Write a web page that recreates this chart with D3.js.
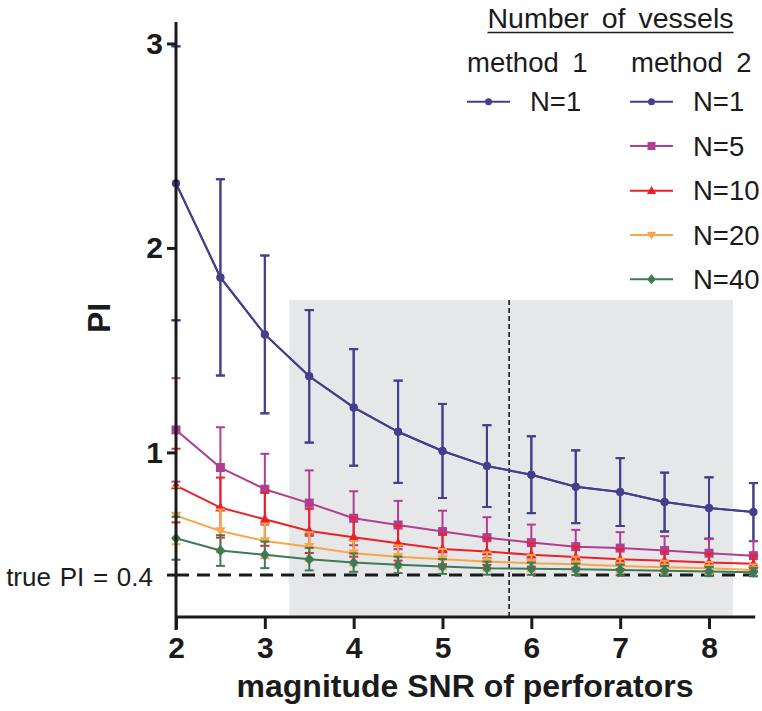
<!DOCTYPE html>
<html>
<head>
<meta charset="utf-8">
<script src="https://cdn.jsdelivr.net/npm/d3@7"></script>
<style>
  html, body { margin: 0; padding: 0; background: #fff; }
  svg { display: block; font-family: "Liberation Sans", Arial, sans-serif; }
</style>
</head>
<body>
<svg id="chart" width="762" height="711"></svg>
<script>
// SNR values where the PI estimate was evaluated
const snr = [2, 2.5, 3, 3.5, 4, 4.5, 5, 5.5, 6, 6.5, 7, 7.5, 8, 8.5];

// mean PI and standard deviation for each series
const m1n1Mean = [2.316, 1.856, 1.577, 1.372, 1.220, 1.101, 1.007, 0.933, 0.891, 0.832, 0.806, 0.757, 0.728, 0.708];
const m1n1Sd   = [0.670, 0.480, 0.386, 0.324, 0.285, 0.250, 0.230, 0.200, 0.188, 0.178, 0.166, 0.144, 0.150, 0.142];
const m2n1Mean = [2.316, 1.856, 1.577, 1.372, 1.220, 1.101, 1.007, 0.933, 0.891, 0.832, 0.806, 0.757, 0.728, 0.708];
const m2n1Sd   = [0.670, 0.480, 0.386, 0.324, 0.285, 0.250, 0.230, 0.200, 0.188, 0.178, 0.166, 0.144, 0.150, 0.142];
const m2n5Mean = [1.110, 0.926, 0.820, 0.752, 0.678, 0.645, 0.613, 0.583, 0.559, 0.539, 0.532, 0.520, 0.507, 0.495];
const m2n5Sd   = [0.253, 0.197, 0.173, 0.160, 0.132, 0.118, 0.102, 0.100, 0.088, 0.082, 0.078, 0.070, 0.069, 0.072];
const m2n10Mean = [0.838, 0.730, 0.673, 0.616, 0.585, 0.556, 0.528, 0.515, 0.499, 0.488, 0.478, 0.470, 0.462, 0.455];
const m2n10Sd   = [0.180, 0.147, 0.130, 0.108, 0.095, 0.085, 0.075, 0.065, 0.058, 0.052, 0.048, 0.045, 0.042, 0.040];
const m2n20Mean = [0.691, 0.616, 0.567, 0.539, 0.507, 0.490, 0.478, 0.466, 0.458, 0.453, 0.445, 0.438, 0.434, 0.425];
const m2n20Sd   = [0.140, 0.105, 0.085, 0.070, 0.060, 0.055, 0.050, 0.045, 0.040, 0.037, 0.035, 0.032, 0.030, 0.028];
const m2n40Mean = [0.580, 0.520, 0.499, 0.478, 0.461, 0.450, 0.442, 0.434, 0.431, 0.428, 0.425, 0.421, 0.417, 0.414];
const m2n40Sd   = [0.105, 0.075, 0.065, 0.055, 0.045, 0.040, 0.036, 0.032, 0.030, 0.028, 0.026, 0.024, 0.022, 0.020];

const seriesLabels = ["N=1", "N=1", "N=5", "N=10", "N=20", "N=40"];
const seriesColors = ["#433f8c", "#433f8c", "#b13f91", "#ee2027", "#f9a64a", "#3d7a57"];
const seriesSymbols = ["circle", "circle", "square", "triangle", "triangleDown", "diamond"];

const xTicks = [2, 3, 4, 5, 6, 7, 8];
const yTicks = [1, 2, 3];
const truePI = 0.4;
const shadeX = [3.275, 8.27];
const shadeTop = 1.745;
const cutoffSnr = 5.75;

const series = [
  { mean: m1n1Mean, sd: m1n1Sd },
  { mean: m2n1Mean, sd: m2n1Sd },
  { mean: m2n5Mean, sd: m2n5Sd },
  { mean: m2n10Mean, sd: m2n10Sd },
  { mean: m2n20Mean, sd: m2n20Sd },
  { mean: m2n40Mean, sd: m2n40Sd }
].map((s, i) => ({
  ...s,
  label: seriesLabels[i],
  color: seriesColors[i],
  symbol: seriesSymbols[i]
}));

const svg = d3.select("#chart");
const x = d3.scaleLinear().domain([2, 8.52]).range([176, 755.2]);
const y = d3.scaleLinear().domain([0.195, 3.105]).range([617, 22]);

const ink = "#1b1b1b";

// shaded SNR window and cutoff line
svg.append("rect")
  .attr("x", x(shadeX[0])).attr("y", y(shadeTop))
  .attr("width", x(shadeX[1]) - x(shadeX[0]))
  .attr("height", y(0.195) - y(shadeTop))
  .attr("fill", "#e6e7e8");

svg.append("line")
  .attr("x1", x(cutoffSnr)).attr("x2", x(cutoffSnr))
  .attr("y1", y(shadeTop)).attr("y2", y(0.195))
  .attr("stroke", ink).attr("stroke-width", 1.6)
  .attr("stroke-dasharray", "5,3");

// reference line at the true PI
svg.append("line")
  .attr("x1", x(2)).attr("x2", x(8.52))
  .attr("y1", y(truePI)).attr("y2", y(truePI))
  .attr("stroke", ink).attr("stroke-width", 3)
  .attr("stroke-dasharray", "13,8");

// symbol generator per marker type
function markerPath(kind, size) {
  const s = size;
  switch (kind) {
    case "circle": return d3.symbol(d3.symbolCircle, s * s * Math.PI / 4)();
    case "square": return `M${-s/2},${-s/2}h${s}v${s}h${-s}Z`;
    case "triangle": return `M0,${-s*0.6}L${s*0.58},${s*0.42}L${-s*0.58},${s*0.42}Z`;
    case "triangleDown": return `M0,${s*0.6}L${s*0.58},${-s*0.42}L${-s*0.58},${-s*0.42}Z`;
    case "diamond": return `M0,${-s*0.62}L${s*0.55},0L0,${s*0.62}L${-s*0.55},0Z`;
  }
}

const line = d3.line().x(d => x(d[0])).y(d => y(d[1]));
const capHalf = 4.5;

series.forEach(s => {
  const g = svg.append("g");
  const pts = snr.map((v, i) => [v, s.mean[i], s.sd[i]]);
  // error bars
  const eb = g.selectAll("g.err").data(pts).join("g").attr("class", "err")
    .attr("stroke", s.color).attr("stroke-width", 2);
  eb.append("line")
    .attr("x1", d => x(d[0])).attr("x2", d => x(d[0]))
    .attr("y1", d => y(d[1] + d[2])).attr("y2", d => y(d[1] - d[2]));
  eb.append("line")
    .attr("x1", d => x(d[0]) - capHalf).attr("x2", d => x(d[0]) + capHalf)
    .attr("y1", d => y(d[1] + d[2])).attr("y2", d => y(d[1] + d[2]));
  eb.append("line")
    .attr("x1", d => x(d[0]) - capHalf).attr("x2", d => x(d[0]) + capHalf)
    .attr("y1", d => y(d[1] - d[2])).attr("y2", d => y(d[1] - d[2]));
  // connecting line
  g.append("path").datum(pts).attr("d", line)
    .attr("fill", "none").attr("stroke", s.color).attr("stroke-width", 2);
  // markers
  g.selectAll("path.mk").data(pts).join("path").attr("class", "mk")
    .attr("transform", d => `translate(${x(d[0])},${y(d[1])})`)
    .attr("d", markerPath(s.symbol, s.symbol === "circle" ? 8 : 9))
    .attr("fill", s.color);
});

// axes
const yAxis = svg.append("g").attr("transform", `translate(${x(2)},0)`)
  .call(d3.axisLeft(y).tickValues(yTicks).tickFormat(d3.format("d")).tickSize(9).tickPadding(4));
yAxis.select(".domain").remove();
yAxis.append("line").attr("x1", 0).attr("x2", 0).attr("y1", y(3.105)).attr("y2", 630)
  .attr("stroke", ink).attr("stroke-width", 3);
yAxis.append("line").attr("x1", -9).attr("x2", 0).attr("y1", y(truePI)).attr("y2", y(truePI))
  .attr("stroke", ink).attr("stroke-width", 3);
yAxis.selectAll(".tick line").attr("stroke", ink).attr("stroke-width", 3);
yAxis.selectAll(".tick text").attr("fill", ink)
  .style("font-size", "30px").style("font-weight", "bold")
  .style("font-family", "'Liberation Sans', Arial, sans-serif");

const xAxis = svg.append("g").attr("transform", `translate(0,${y(0.195)})`)
  .call(d3.axisBottom(x).tickValues(xTicks).tickFormat(d3.format("d")).tickSize(12).tickPadding(8));
xAxis.select(".domain").remove();
xAxis.append("line").attr("x1", x(2)).attr("x2", x(8.52)).attr("y1", 0).attr("y2", 0)
  .attr("stroke", ink).attr("stroke-width", 3);
xAxis.selectAll(".tick line").attr("stroke", ink).attr("stroke-width", 3);
xAxis.selectAll(".tick text").attr("fill", ink)
  .style("font-size", "30px").style("font-weight", "bold")
  .style("font-family", "'Liberation Sans', Arial, sans-serif");

// axis titles
svg.append("text").attr("x", 465).attr("y", 697).attr("text-anchor", "middle")
  .attr("fill", ink).style("font-size", "32px").style("font-weight", "bold")
  .text("magnitude SNR of perforators");
svg.append("text").attr("transform", "translate(110,318) rotate(-90)")
  .attr("text-anchor", "middle").attr("fill", ink)
  .style("font-size", "32px").style("font-weight", "bold").text("PI");

svg.append("text").attr("x", 153).attr("y", 586).attr("text-anchor", "end")
  .attr("fill", ink).style("font-size", "26px").style("word-spacing", "1.5px")
  .text("true PI = 0.4");

// legend
const leg = svg.append("g").attr("fill", ink).style("font-size", "27.5px");
const title = leg.append("text").attr("x", 610.5).attr("y", 28).attr("text-anchor", "middle")
  .style("font-size", "28.5px").style("word-spacing", "5px").text("Number of vessels");
const tb = title.node().getBBox();
leg.append("line").attr("x1", tb.x).attr("x2", tb.x + tb.width).attr("y1", 32.5).attr("y2", 32.5)
  .attr("stroke", ink).attr("stroke-width", 1.5);
leg.append("text").attr("x", 467).attr("y", 72).style("word-spacing", "6px").text("method 1");
leg.append("text").attr("x", 631).attr("y", 72).style("word-spacing", "6px").text("method 2");

const rowY = [101.7, 101.7, 146, 190.7, 235, 279.3];
const colX = [467, 630, 630, 630, 630, 630];
series.forEach((s, i) => {
  const gx = colX[i], gy = rowY[i];
  leg.append("line").attr("x1", gx).attr("x2", gx + 43).attr("y1", gy).attr("y2", gy)
    .attr("stroke", s.color).attr("stroke-width", 2);
  leg.append("path").attr("transform", `translate(${gx + 21.5},${gy})`)
    .attr("d", markerPath(s.symbol, s.symbol === "circle" ? 7 : 8))
    .attr("fill", s.color);
  leg.append("text").attr("x", gx + 63).attr("y", gy + 9.5).text(s.label);
});
</script>
</body>
</html>
